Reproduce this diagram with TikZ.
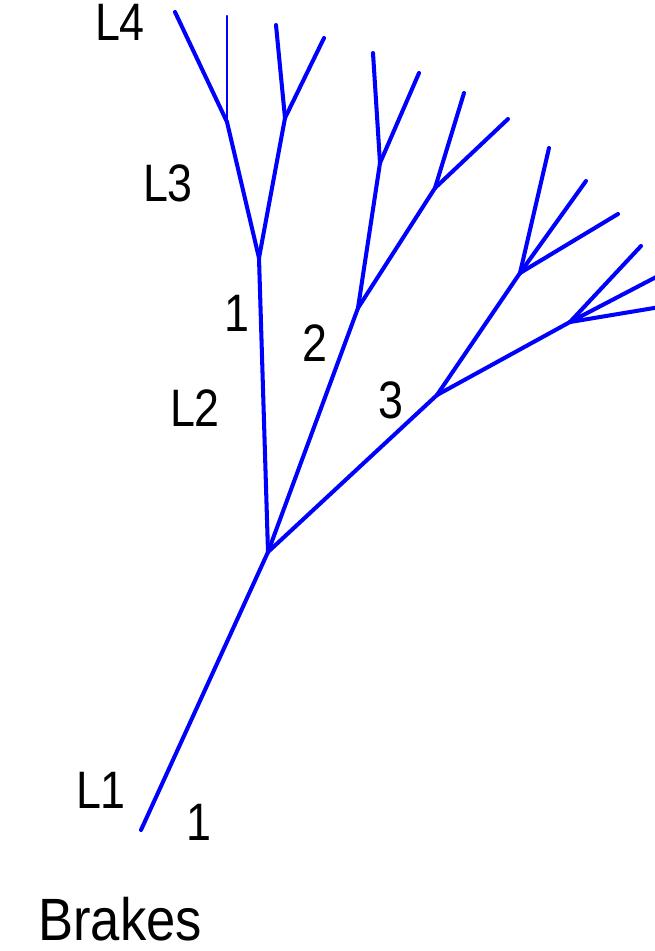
\documentclass[tikz,border=0pt]{standalone}
\usepackage{fontspec}
\setmainfont{Liberation Sans}
\begin{document}
\begin{tikzpicture}[x=0.02cm,y=-0.02cm,
  branch/.style={draw={rgb,255:red,0;green,0;blue,255},line width=2.3pt,line cap=round,line join=round},
  thinbranch/.style={branch,line width=1.3pt},
  lbl/.style={font=\fontsize{30}{30}\selectfont,text=black,inner sep=0pt,xscale=0.85},
  title/.style={font=\fontsize{34}{34}\selectfont,text=black,inner sep=0pt,xscale=0.88}]
\useasboundingbox (0,0) rectangle (655,951);
% junctions
\coordinate (root) at (141,830);
\coordinate (A) at (268,552);
\coordinate (B1) at (259,258);
\coordinate (C1) at (227,122);
\coordinate (C2) at (285,118);
\coordinate (B2) at (358,308);
\coordinate (C3) at (380,163);
\coordinate (C4) at (435,188);
\coordinate (B3) at (437,395);
\coordinate (C5) at (520,273);
\coordinate (C6) at (570,322);
% tips
\coordinate (t1) at (175,12);
\coordinate (t2) at (227,16);
\coordinate (t3) at (276,25);
\coordinate (t4) at (324,38);
\coordinate (t5) at (373,53);
\coordinate (t6) at (419,73);
\coordinate (t7) at (464,93);
\coordinate (t8) at (508,119);
\coordinate (t9) at (549,148);
\coordinate (t10) at (586,181);
\coordinate (t11) at (618,214);
\coordinate (t12) at (641,246);
\coordinate (t13) at (660,275);
\coordinate (t14) at (660,307);
% tree
\draw[branch] (root) -- (A);
\draw[branch] (A) -- (B1);
\draw[branch] (A) -- (B2);
\draw[branch] (A) -- (B3);
\draw[branch] (B1) -- (C1);
\draw[branch] (B1) -- (C2);
\draw[branch] (C1) -- (t1);
\draw[thinbranch] (C1) -- (t2);
\draw[branch] (C2) -- (t3);
\draw[branch] (C2) -- (t4);
\draw[branch] (B2) -- (C3);
\draw[branch] (B2) -- (C4);
\draw[branch] (C3) -- (t5);
\draw[branch] (C3) -- (t6);
\draw[branch] (C4) -- (t7);
\draw[branch] (C4) -- (t8);
\draw[branch] (B3) -- (C5);
\draw[branch] (B3) -- (C6);
\draw[branch] (C5) -- (t9);
\draw[branch] (C5) -- (t10);
\draw[branch] (C5) -- (t11);
\draw[branch] (C6) -- (t12);
\draw[branch] (C6) -- (t13);
\draw[branch] (C6) -- (t14);
% labels
\node[lbl] (l4) at (120,22) {L4};
\node[lbl] (l3) at (168,183) {L3};
\node[lbl] (n1) at (237,313) {1};
\node[lbl] (n2) at (315,343) {2};
\node[lbl] (l2) at (195,408) {L2};
\node[lbl] (n3) at (391,400) {3};
\node[lbl] (l1) at (101,790) {L1};
\node[lbl] (n1b) at (199,822) {1};
\node[title,anchor=base west] (brakes) at (38,940) {Brakes};
\end{tikzpicture}
\end{document}
